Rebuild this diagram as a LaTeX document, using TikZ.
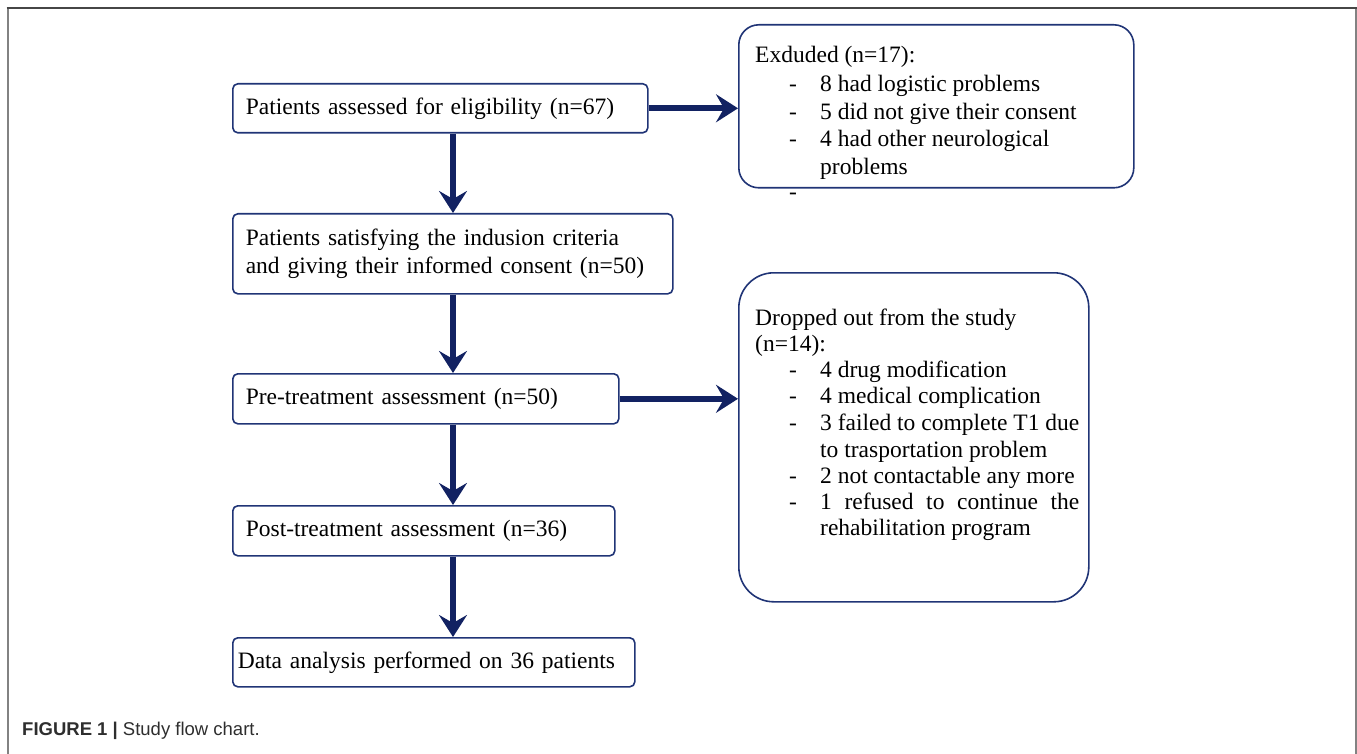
\documentclass[tikz,border=0pt]{standalone}
\usepackage{fontspec}
\setmainfont{Liberation Serif}
\newfontfamily\capfont{Liberation Sans}
\usetikzlibrary{arrows.meta,calc}
\definecolor{navy}{RGB}{18,34,98}
\definecolor{boxblue}{RGB}{32,52,118}
\definecolor{framegray}{RGB}{70,70,70}
\definecolor{framegraylight}{RGB}{130,130,130}
\newlength\dropjw
\begin{document}
\begin{tikzpicture}[x=1pt,y=-1pt,
  flowbox/.style={draw=boxblue, line width=1.6pt, rounded corners=5pt, fill=white, anchor=north west, align=left, inner ysep=0pt, font=\fontsize{23.5}{28}\selectfont},
  sidebox/.style={draw=boxblue, line width=1.6pt, fill=white, anchor=north west, inner sep=0pt},
  listtxt/.style={anchor=base west, inner sep=0pt, font=\fontsize{23.5}{28}\selectfont},
  flowarrow/.style={draw=navy, line width=6pt, -{Stealth[length=22pt,width=28pt,inset=8pt]}},
]
\useasboundingbox (0,0) rectangle (1357,754);
% frame
\draw[framegraylight, line width=2pt] (7.5,8) -- (7.5,754);
\draw[framegraylight, line width=2pt] (1355.5,8) -- (1355.5,754);
\draw[framegray, line width=2pt] (6.5,8) -- (1356.5,8);

\coordinate (vx) at (453,0);

% side boxes
\node[sidebox, rounded corners=20pt, minimum width=395pt, minimum height=163pt] (ex) at (738,24) {};
\node[sidebox, rounded corners=35pt, minimum width=350pt, minimum height=329pt] (dr) at (738,272) {};

% main boxes
\node[flowbox, text width=389pt, inner xsep=13pt, minimum height=49pt] (b1) at (232,83) {Patients assessed for eligibility (n=67)};
\node[flowbox, text width=414pt, inner xsep=13pt, minimum height=80pt] (b2) at (232,213) {Patients satisfying the indusion criteria\\and giving their informed consent (n=50)};
\node[flowbox, text width=360pt, inner xsep=13pt, minimum height=50pt] (b3) at (232,373) {Pre-treatment assessment (n=50)};
\node[flowbox, text width=356pt, inner xsep=13pt, minimum height=50pt] (b4) at (232,505) {Post-treatment assessment (n=36)};
\node[flowbox, text width=392pt, inner xsep=5pt, minimum height=49pt] (b5) at (232,637) {Data analysis performed on 36 patients};

% arrows
\draw[flowarrow] (vx |- b1.south) -- (vx |- b2.north);
\draw[flowarrow] (vx |- b2.south) -- (vx |- b3.north);
\draw[flowarrow] (vx |- b3.south) -- (vx |- b4.north);
\draw[flowarrow] (vx |- b4.south) -- (vx |- b5.north);
\draw[flowarrow] (b1.east) -- (b1.east -| ex.west);
\draw[flowarrow] (b3.east) -- (b3.east -| dr.west);

% excluded text
\node[listtxt] (ex0) at (755,63) {Exduded (n=17):};
\node[listtxt] (ex1) at (789,92) {\makebox[31pt][l]{-}8 had logistic problems};
\node[listtxt] (ex2) at (789,120) {\makebox[31pt][l]{-}5 did not give their consent};
\node[listtxt] (ex3) at (789,147) {\makebox[31pt][l]{-}4 had other neurological};
\node[listtxt] (ex4) at (820,175) {problems};
\node[listtxt] (ex5) at (789,200) {-};

% dropped text
\node[listtxt] (dr0) at (755,325) {Dropped out from the study};
\node[listtxt] (dr1) at (755,351) {(n=14):};
\node[listtxt] (dr2) at (789,377) {\makebox[31pt][l]{-}4 drug modification};
\node[listtxt] (dr3) at (789,403) {\makebox[31pt][l]{-}4 medical complication};
\node[listtxt] (dr4) at (789,430) {\makebox[31pt][l]{-}3 failed to complete T1 due};
\node[listtxt] (dr5) at (820,457) {to trasportation problem};
\node[listtxt] (dr6) at (789,483) {\makebox[31pt][l]{-}2 not contactable any more};
\node[listtxt] (dr7) at (789,509) {\settowidth{\dropjw}{3 failed to complete T1 due}\makebox[31pt][l]{-}\makebox[\dropjw][s]{1 refused to continue the}};
\node[listtxt] (dr8) at (820,535) {rehabilitation program};

% caption
\node[anchor=base west, inner sep=0pt, font=\capfont\fontsize{18.5}{22}\selectfont, text=black!82] (cap) at (22,735) {\textbf{FIGURE 1 |} Study flow chart.};
\end{tikzpicture}
\end{document}
